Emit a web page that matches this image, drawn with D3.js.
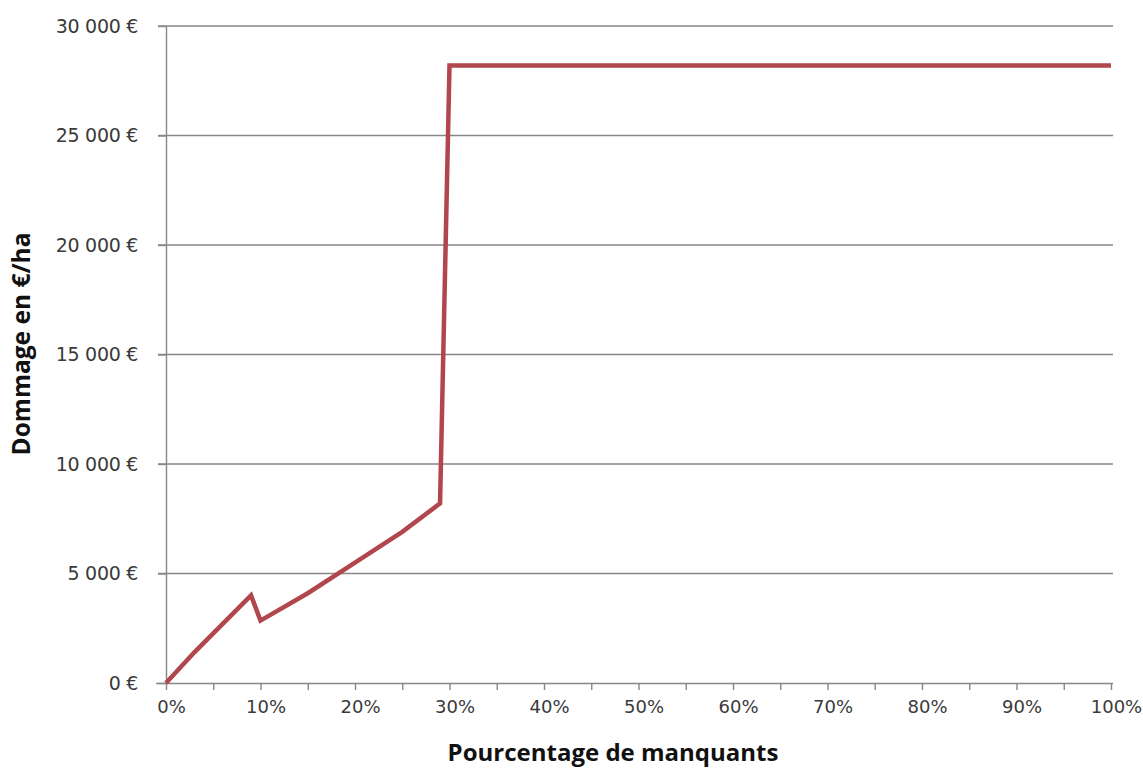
<!DOCTYPE html>
<html>
<head>
<meta charset="utf-8">
<script src="https://cdn.jsdelivr.net/npm/d3@7"></script>
<style>
  body { margin: 0; background: #fff; }
  svg { display: block; }
</style>
</head>
<body>
<svg id="chart" width="1143" height="769"></svg>
<script>
// Data
const pctMissing = [0, 3, 9, 10, 15, 20, 25, 29, 30, 100];           // % de manquants
const damage     = [0, 1400, 4000, 2850, 4100, 5500, 6900, 8200, 28200, 28200]; // €/ha
const yTicks = [0, 5000, 10000, 15000, 20000, 25000, 30000];
const xTickLabels = [0, 10, 20, 30, 40, 50, 60, 70, 80, 90, 100];
const xTickMarks = d3.range(0, 101, 5);

const svg = d3.select("#chart");
const plotLeft = 166, plotRight = 1111, plotTop = 26, plotBottom = 683;

const x = d3.scaleLinear().domain([0, 100]).range([plotLeft, plotRight]);
const y = d3.scaleLinear().domain([0, 30000]).range([plotBottom, plotTop]);

const gridColor = "#878787";
const textColor = "#3a3a3a";

// gridlines
svg.append("g").selectAll("line").data(yTicks.filter(d => d > 0)).join("line")
  .attr("x1", plotLeft - 8).attr("x2", plotRight + 2)
  .attr("y1", d => y(d)).attr("y2", d => y(d))
  .attr("stroke", gridColor).attr("stroke-width", 1.4);

// y axis
const fmt = d => (d === 0 ? "0" : d3.format(",")(d).replace(/,/g, " ")) + " €";
const yAxis = svg.append("g").attr("transform", `translate(${plotLeft},0)`)
  .call(d3.axisLeft(y).tickValues(yTicks).tickSize(8).tickSizeOuter(0).tickPadding(20).tickFormat(fmt));
yAxis.select(".domain").attr("stroke", gridColor).attr("stroke-width", 1.4);
yAxis.selectAll(".tick line").attr("stroke", gridColor).attr("stroke-width", 1.4);
yAxis.selectAll(".tick text")
  .attr("font-family", "DejaVu Sans").attr("font-size", 19).attr("fill", textColor)
  .attr("letter-spacing", "-0.3px");

// x axis
const xAxis = svg.append("g").attr("transform", `translate(0,${plotBottom})`)
  .call(d3.axisBottom(x).tickValues(xTickMarks).tickSize(7).tickSizeOuter(0)
    .tickFormat(d => xTickLabels.includes(d) ? d + "%" : ""));
xAxis.select(".domain").attr("stroke", gridColor).attr("stroke-width", 1.6)
  .attr("d", `M${plotLeft - 10},0.5H${plotRight + 2}`);
xAxis.selectAll(".tick line").attr("stroke", gridColor).attr("stroke-width", 1.4);
xAxis.selectAll(".tick text")
  .attr("font-family", "DejaVu Sans").attr("font-size", 18).attr("fill", textColor)
  .attr("dx", 5).attr("y", 17);

// data line
const line = d3.line().x((d, i) => x(pctMissing[i])).y(d => y(d));
svg.append("path").datum(damage)
  .attr("d", line)
  .attr("fill", "none")
  .attr("stroke", "#b1464c")
  .attr("stroke-width", 4.5)
  .attr("stroke-linejoin", "miter");

// axis titles
svg.append("text")
  .attr("x", 613).attr("y", 761)
  .attr("text-anchor", "middle")
  .attr("font-family", "Open Sans").attr("font-weight", "bold").attr("font-size", 24)
  .attr("fill", "#111")
  .text("Pourcentage de manquants");

svg.append("text")
  .attr("transform", "translate(30,344) rotate(-90)")
  .attr("text-anchor", "middle")
  .attr("font-family", "Open Sans").attr("font-weight", "bold").attr("font-size", 24.5)
  .attr("fill", "#111")
  .text("Dommage en €/ha");
</script>
</body>
</html>
